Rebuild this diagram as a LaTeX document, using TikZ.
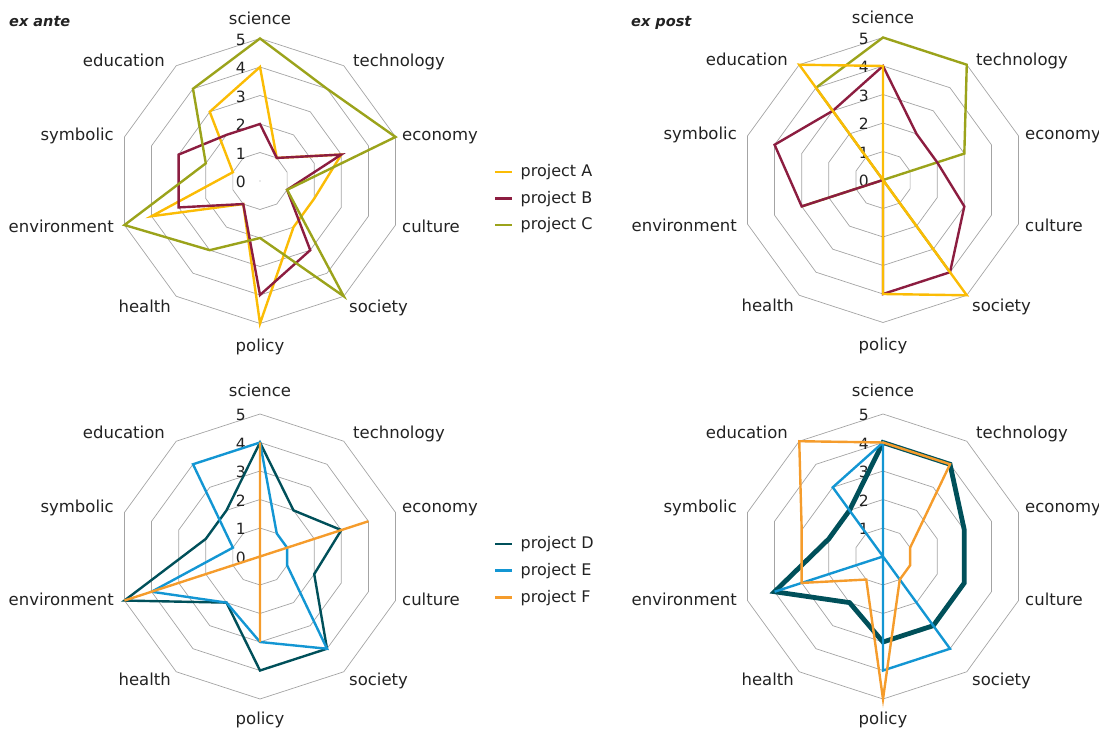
\documentclass[tikz,border=0pt]{standalone}
\usepackage{fontspec}
\setmainfont{DejaVu Sans}
\definecolor{txt}{HTML}{222222}
\definecolor{gridc}{HTML}{A4A4A4}
\definecolor{cA}{HTML}{FBBC05}
\definecolor{cB}{HTML}{8C1D40}
\definecolor{cC}{HTML}{9BA31B}
\definecolor{cD}{HTML}{00505A}
\definecolor{cE}{HTML}{1396D3}
\definecolor{cF}{HTML}{F59C2C}
\def\ru{28.5}
% radar grid: #1 cx, #2 cy (image coordinates), #3 name prefix, #4 label shift (up), #5 lowest scale number
\newcommand\radargrid[5]{%
  \begin{scope}[shift={(#1,{728-#2})}]
    \foreach \rr in {1,...,5}{
      \draw[gridline] (90:{\rr*\ru}) \foreach \kk in {1,...,9}{ -- ({90-36*\kk}:{\rr*\ru}) } -- cycle;
    }
    \fill[gridc] (0,0) circle (0.6);
    \begin{scope}[yshift=#4]
    \node[lab, anchor=base] (#3sci) at (0,156) {science};
    \node[lab, anchor=base west] (#3tec) at (93,114.3) {technology};
    \node[lab, anchor=base west] (#3eco) at (142,40) {economy};
    \node[lab, anchor=base west] (#3cul) at (142,-52) {culture};
    \node[lab, anchor=base west] (#3soc) at (89,-132) {society};
    \node[lab, anchor=base] (#3pol) at (0,-171) {policy};
    \node[lab, anchor=base east] (#3hea) at (-89,-132) {health};
    \node[lab, anchor=base east] (#3env) at (-146,-52) {environment};
    \node[lab, anchor=base east] (#3sym) at (-146,40) {symbolic};
    \node[lab, anchor=base east] (#3edu) at (-95,114.3) {education};
    \end{scope}
    \foreach \nn in {#5,...,5}{
      \node[num, anchor=base east] (#3n\nn) at (-14,{\nn*\ru-7}) {\nn};
    }
  \end{scope}}
% data polygon: #1 cx, #2 cy, #3 style, #4 science value, #5 other nine values
\newcommand\radarpoly[5]{%
  \begin{scope}[shift={(#1,{728-#2})}]
    \draw[#3] (90:{#4*\ru}) \foreach \vv [count=\ii] in {#5}{ -- ({90-36*\ii}:{\vv*\ru}) } -- cycle;
  \end{scope}}
\begin{document}
\begin{tikzpicture}[x=1pt,y=1pt,
  gridline/.style={draw=gridc, line width=0.7pt},
  lab/.style={text=txt, inner sep=0pt, font=\fontsize{16.5}{18}\selectfont},
  num/.style={text=txt, inner sep=0pt, font=\fontsize{15.5}{17}\selectfont},
  ttl/.style={text=txt, inner sep=0pt, anchor=base west, font=\fontsize{14.5}{16}\selectfont\bfseries\itshape},
  leg/.style={text=txt, inner sep=0pt, anchor=base west, font=\fontsize{16}{18}\selectfont},
  data/.style={line width=2.4pt},
  thickdata/.style={line width=4.8pt},
  legline/.style={line width=2.6pt}]
\useasboundingbox (0,0) rectangle (1099,728);

% titles
\node[ttl] (tante) at (9,{728-27}) {ex ante};
\node[ttl] (tpost) at (631,{728-27}) {ex post};

% grids
\radargrid{260}{181}{tl}{0pt}{0}
\radargrid{883}{180}{tr}{0pt}{0}
\radargrid{260}{556.5}{bl}{3.5pt}{0}
\radargrid{883}{556.5}{br}{3.5pt}{1}

% ex ante, projects A-C
\radarpoly{260}{181}{data,draw=cA}{4}{1,3,2,2,5,1,4,1,3}
\radarpoly{260}{181}{data,draw=cB}{2}{1,3,1,3,4,1,3,3,2}
\radarpoly{260}{181}{data,draw=cC}{5}{4,5,1,5,2,3,5,2,4}
% ex post, projects A-C
\radarpoly{883}{180}{data,draw=cC}{5}{5,3,0,4,0,0,3,0,4}
\radarpoly{883}{180}{data,draw=cB}{4}{2,2,3,4,4,0,3,4,3}
\radarpoly{883}{180}{data,draw=cA}{4}{0,0,0,5,4,0,0,0,5}
% ex ante, projects D-F
\radarpoly{260}{556.5}{data,draw=cD}{4}{2,3,2,4,4,2,5,2,2}
\radarpoly{260}{556.5}{data,draw=cE}{4}{1,1,1,4,3,2,4,1,4}
\radarpoly{260}{556.5}{data,draw=cF}{4}{0,4,0,0,3,0,5,0,0}
% ex post, projects D-F
\radarpoly{883}{556.5}{thickdata,draw=cD}{4}{4,3,3,3,3,2,4,2,2}
\radarpoly{883}{556.5}{data,draw=cE}{4}{0,0,0,4,4,0,4,0,3}
\radarpoly{883}{556.5}{data,draw=cF}{4}{4,1,1,1,5,1,3,3,5}

% legends
\coordinate (lA) at (495,{728-172});
\coordinate (lB) at (495,{728-198.5});
\coordinate (lC) at (495,{728-225});
\draw[legline,cA] (lA) -- ++(17,0);
\draw[legline,cB] (lB) -- ++(17,0);
\draw[legline,cC] (lC) -- ++(17,0);
\node[leg] (legA) at (520.5,{728-177}) {project A};
\node[leg] (legB) at (520.5,{728-203.5}) {project B};
\node[leg] (legC) at (520.5,{728-230}) {project C};
\coordinate (lD) at (495,{728-544});
\coordinate (lE) at (495,{728-570.7});
\coordinate (lF) at (495,{728-597.5});
\draw[legline,cD] (lD) -- ++(17,0);
\draw[legline,cE] (lE) -- ++(17,0);
\draw[legline,cF] (lF) -- ++(17,0);
\node[leg] (legD) at (520.5,{728-549}) {project D};
\node[leg] (legE) at (520.5,{728-575.7}) {project E};
\node[leg] (legF) at (520.5,{728-602.5}) {project F};
\end{tikzpicture}
\end{document}
